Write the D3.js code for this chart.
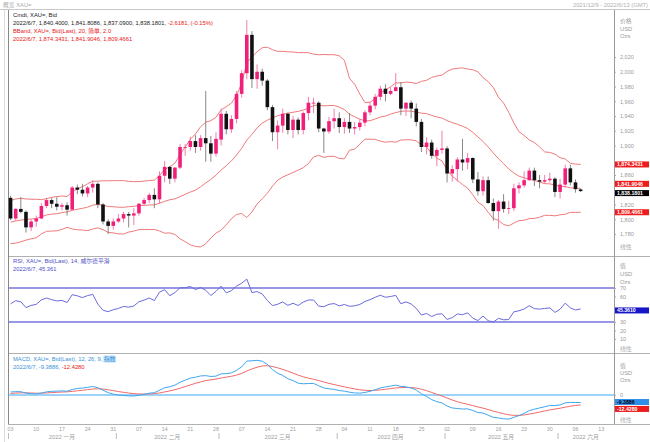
<!DOCTYPE html>
<html><head><meta charset="utf-8">
<script src="https://cdn.jsdelivr.net/npm/d3@7"></script>
<style>body{margin:0;background:#fff}svg{display:block}text{font-family:"Liberation Sans","Noto Sans CJK SC",sans-serif}</style>
</head><body><svg id="c" width="650" height="442"></svg>
<script>
// ---------- DATA ----------
const dayList = {
  "01":["03","04","05","06","07","10","11","12","13","14","17","18","19","20","21","24","25","26","27","28","31"],
  "02":["01","02","03","04","07","08","09","10","11","14","15","16","17","18","21","22","23","24","25","28"],
  "03":["01","02","03","04","07","08","09","10","11","14","15","16","17","18","21","22","23","24","25","28","29","30","31"],
  "04":["01","04","05","06","07","08","11","12","13","14","15","18","19","20","21","22","25","26","27","28","29"],
  "05":["02","03","04","05","06","09","10","11","12","13","16","17","18","19","20","23","24","25","26","27","30","31"],
  "06":["01","02","03","06","07"]
};
const dates = Object.keys(dayList).flatMap(m => dayList[m].map(d => `2022-${m}-${d}`));
const futureDates = ["2022-06-08","2022-06-09","2022-06-10","2022-06-13","2022-06-14","2022-06-15"];

const open = [1829,1801,1814,1810,1789,1797,1801,1818,1826,1821,1817,1819,1813,1843,1840,1835,1843,1848,1820,1797,1791,
 1797,1801,1807,1805,1808,1821,1826,1833,1827,1859,1871,1855,1870,1898,1898,1906,1898,1910,1903,1889,
 1908,1943,1922,1936,1970,1998,2050,1990,2000,1988,1952,1918,1927,1943,1921,1935,1921,1944,1958,1958,1923,1919,1933,
 1937,1925,1932,1923,1925,1931,1945,1954,1966,1977,1970,1974,1979,1950,1958,1950,1932,1898,1904,1886,1894,
 1896,1862,1868,1881,1877,1883,1854,1838,1853,1822,1811,1824,1814,1815,1842,1846,1853,1866,1853,1851,1853,1855,
 1837,1847,1869,1850,1840.4];
const high = [1832,1815,1830,1812,1800,1805,1822,1829,1829,1830,1822,1823,1845,1847,1848,1845,1853,1850,1822,1800,1801,
 1807,1810,1810,1815,1822,1829,1836,1842,1865,1879,1872,1871,1902,1902,1912,1914,1914,1974,1913,1918,
 1950,1947,1941,1974,2002,2070,2055,2010,2004,1990,1955,1934,1950,1945,1940,1938,1946,1966,1965,1960,1924,1939,1950,
 1945,1937,1944,1932,1936,1948,1959,1970,1981,1983,1979,1998,1986,1959,1961,1957,1936,1911,1908,1897,1920,
 1899,1873,1884,1909,1890,1884,1864,1858,1858,1828,1826,1834,1825,1848,1850,1865,1870,1870,1860,1860,1863,1857,
 1855,1874,1874,1854,1841.81];
const low = [1799,1798,1808,1782,1784,1790,1800,1815,1815,1812,1812,1805,1812,1834,1831,1830,1836,1815,1793,1780,1786,
 1795,1796,1789,1792,1805,1818,1822,1815,1821,1850,1848,1850,1868,1886,1893,1890,1893,1878,1878,1885,
 1900,1915,1917,1930,1965,1990,1978,1977,1981,1948,1906,1895,1917,1915,1910,1915,1915,1934,1944,1918,1890,1916,1923,
 1917,1916,1917,1915,1920,1926,1941,1949,1961,1960,1968,1973,1941,1940,1937,1926,1891,1888,1882,1872,1889,
 1850,1851,1851,1866,1868,1849,1832,1832,1821,1798,1787,1809,1807,1811,1835,1843,1852,1845,1842,1848,1850,1830,
 1828,1843,1846,1836,1837.09];
const close = [1801,1814,1810,1789,1797,1801,1818,1826,1821,1817,1819,1813,1843,1840,1835,1843,1848,1820,1797,1791,1797,
 1801,1807,1805,1808,1821,1826,1833,1827,1859,1871,1855,1870,1898,1898,1906,1898,1910,1903,1889,1909,
 1943,1922,1936,1970,1998,2050,1990,2000,1988,1952,1918,1927,1943,1921,1935,1921,1944,1958,1958,1923,1919,1933,1937,
 1925,1932,1923,1925,1931,1945,1954,1966,1977,1970,1974,1979,1950,1958,1950,1932,1898,1904,1886,1894,1896,
 1862,1868,1881,1877,1883,1854,1838,1853,1822,1811,1824,1814,1815,1842,1846,1853,1866,1853,1851,1853,1855,1837,
 1847,1869,1850,1840.8,1838.18];

const bbUpper = [1825.4,1827.4,1828.4,1827.5,1827.1,1827.1,1826.6,1827.9,1829.7,1830.7,1831.5,1830.9,1837.1,1841.4,1844.1,1848.1,1851.6,1851.6,1852.2,1852.1,
 1852.4,1852.4,1852.4,1851.4,1851.0,1851.1,1851.7,1852.5,1853.0,1859.2,1867.5,1871.2,1876.0,1887.7,1897.9,1908.4,1915.6,1925.4,1931.6,1933.7,
 1938.2,1948.4,1952.7,1957.5,1967.9,1984.3,2012.3,2020.3,2027.0,2032.5,2033.3,2029.9,2027.6,2027.7,2027.0,2026.8,2025.9,2025.9,2025.9,2023.9,
 2023.0,2023.4,2023.1,2023.1,2021.6,2015.5,1991.1,1983.1,1969.8,1958.3,1958.7,1963.7,1971.1,1975.2,1979.7,1984.9,1984.9,1986.0,1985.3,1984.1,
 1987.0,1988.4,1992.4,1994.1,1995.4,2000.5,2003.6,2004.6,2005.2,2003.7,2002.7,2000.0,1992.0,1986.5,1978.8,1965.5,1957.6,1945.1,1930.6,1918.7,
 1913.6,1907.6,1904.0,1898.2,1891.3,1890.6,1888.2,1883.4,1881.8,1875.9,1874.8,1874.3];
const bbMiddle = [1796.1,1797.6,1798.9,1799.6,1800.3,1801.0,1803.4,1805.8,1806.9,1807.5,1808.9,1810.0,1812.0,1813.6,1814.8,1816.4,1819.2,1820.0,1819.1,1817.2,
 1817.0,1816.3,1816.2,1817.0,1817.5,1818.5,1818.9,1819.3,1819.6,1821.7,1824.3,1826.4,1827.7,1830.6,1833.8,1836.9,1839.4,1843.9,1849.2,1854.1,
 1859.7,1866.8,1872.6,1879.1,1887.2,1896.1,1907.3,1915.1,1923.8,1930.2,1934.3,1937.4,1940.3,1942.5,1943.7,1945.1,1946.3,1948.0,1950.7,1954.2,
 1954.9,1953.7,1954.2,1954.3,1952.0,1948.7,1942.4,1939.1,1935.7,1933.5,1933.6,1936.0,1938.5,1939.9,1942.5,1944.7,1946.2,1946.9,1946.5,1945.2,
 1943.9,1943.2,1940.8,1938.7,1937.2,1933.7,1931.0,1928.8,1926.1,1923.0,1918.0,1911.6,1905.4,1898.0,1889.8,1882.1,1875.3,1868.1,1862.7,1858.4,
 1856.2,1854.3,1852.6,1850.5,1848.3,1848.0,1846.4,1844.7,1844.3,1842.7,1842.0,1841.9];
const bbLower = [1766.8,1767.7,1769.4,1771.7,1773.5,1774.9,1780.1,1783.6,1784.0,1784.3,1786.2,1789.1,1786.9,1785.7,1785.4,1784.6,1786.8,1788.3,1785.9,1782.2,
 1781.5,1780.2,1780.0,1782.5,1784.0,1785.9,1786.1,1786.0,1786.2,1784.1,1781.1,1781.5,1779.4,1773.5,1769.6,1765.4,1763.2,1762.4,1766.8,1774.5,
 1781.2,1785.2,1792.4,1800.7,1806.5,1807.8,1802.2,1809.9,1820.5,1827.9,1835.3,1844.9,1852.9,1857.3,1860.3,1863.4,1866.6,1870.0,1875.5,1884.5,
 1886.7,1883.9,1885.3,1885.4,1882.4,1881.9,1893.6,1895.1,1901.6,1908.7,1908.5,1908.3,1905.9,1904.5,1905.3,1904.5,1907.4,1907.7,1907.7,1906.2,
 1900.8,1897.9,1889.2,1883.2,1879.0,1866.9,1858.3,1852.9,1847.0,1842.2,1833.3,1823.1,1818.7,1809.4,1800.8,1798.6,1792.9,1791.1,1794.8,1798.1,
 1798.7,1800.9,1801.2,1802.7,1805.3,1805.3,1804.6,1806.0,1806.8,1809.4,1809.2,1809.5];

const rsi = [51.3,55.1,53.7,47.0,49.5,50.8,56.0,58.2,56.3,54.8,55.4,52.9,62.1,60.8,58.7,61.1,62.5,51.0,43.8,42.2,
 44.4,46.0,48.3,47.5,48.8,53.9,55.7,58.2,55.3,65.2,68.0,60.9,64.6,70.3,70.3,71.8,68.1,70.6,67.3,61.2,
 66.0,72.2,64.3,66.9,72.2,75.6,80.5,64.6,65.8,63.0,55.4,49.3,50.9,53.6,49.6,52.0,49.4,53.5,55.9,55.9,
 48.7,48.0,50.8,51.7,49.0,50.6,48.5,49.0,50.6,54.1,56.3,59.1,61.5,59.1,60.0,61.3,51.5,53.7,51.2,46.0,
 38.1,40.1,36.4,39.1,39.7,33.0,35.1,39.5,38.6,40.7,34.5,31.7,37.0,31.5,29.9,34.3,32.6,32.9,42.0,43.2,
 45.3,49.2,45.7,45.2,45.9,46.6,41.3,45.0,52.2,46.6,44.1,45.361];

const macd = [3.77,4.19,4.16,2.40,1.63,1.33,2.44,3.92,4.63,4.82,5.08,4.74,6.82,8.13,8.66,9.62,10.66,9.12,5.97,2.96,
 1.05,-0.14,-0.60,-1.11,-1.26,-0.32,0.81,2.25,2.87,5.88,9.13,10.29,12.28,15.93,18.61,21.14,22.24,23.81,24.21,23.13,
 23.62,26.44,26.68,27.67,30.85,35.22,42.39,42.74,43.32,42.33,38.20,31.81,27.16,24.48,20.36,18.01,14.84,14.02,14.34,14.43,
 11.54,8.83,7.72,7.08,5.55,4.84,3.51,2.58,2.30,3.18,4.55,6.53,8.88,10.06,11.19,12.35,10.80,10.10,8.80,6.24,
 1.46,-1.83,-5.82,-8.24,-9.89,-13.78,-16.19,-16.86,-17.51,-17.34,-19.32,-21.93,-22.53,-25.22,-27.92,-28.67,-29.73,-30.14,-27.97,-25.63,
 -22.94,-19.54,-17.69,-16.20,-14.69,-13.18,-13.28,-12.41,-9.83,-9.22,-9.37,-9.3886];
const macdSignal = [1.95,2.40,2.75,2.68,2.47,2.24,2.28,2.61,3.01,3.37,3.71,3.92,4.50,5.23,5.92,6.66,7.46,7.79,7.43,6.54,
 5.44,4.32,3.34,2.45,1.71,1.30,1.20,1.41,1.70,2.54,3.86,5.15,6.58,8.45,10.48,12.61,14.54,16.39,17.95,18.99,
 19.92,21.22,22.31,23.38,24.87,26.94,30.03,32.57,34.72,36.24,36.63,35.67,33.97,32.07,29.73,27.39,24.88,22.71,21.04,19.72,
 18.08,16.23,14.53,13.04,11.54,10.20,8.86,7.60,6.54,5.87,5.61,5.79,6.41,7.14,7.95,8.83,9.22,9.40,9.28,8.67,
 7.23,5.42,3.17,0.89,-1.27,-3.77,-6.25,-8.37,-10.20,-11.63,-13.17,-14.92,-16.44,-18.20,-20.14,-21.85,-23.43,-24.77,-25.41,-25.45,
 -24.95,-23.87,-22.63,-21.34,-20.01,-18.64,-17.57,-16.54,-15.20,-14.00,-13.07,-12.428];

// tick labels that are visible in the reference (the others sit under the value boxes)
const priceTicks = [1780,1800,1820,1860,1900,1920,1940,1960,1980,2000,2020];
const rsiTicks = [10,20,30,60,70];
const rsiLevels = [70,30];
const macdTicks = [0];
const mondayTicks = ["2022-01-03","2022-01-10","2022-01-17","2022-01-24","2022-01-31","2022-02-07","2022-02-14","2022-02-21","2022-02-28",
 "2022-03-07","2022-03-14","2022-03-21","2022-03-28","2022-04-04","2022-04-11","2022-04-18","2022-04-25","2022-05-02","2022-05-09",
 "2022-05-16","2022-05-23","2022-05-30","2022-06-06","2022-06-13"];
const monthStarts = ["2022-01-03","2022-02-01","2022-03-01","2022-04-01","2022-05-02","2022-06-01"];
const monthLabels = ["2022 一月","2022 二月","2022 三月","2022 四月","2022 五月","2022 六月"];

// ---------- DRAW ----------
const svg = d3.select("#c");
const L = 8, R = 614;
const P = {main:[10,256], rsi:[256,353], macd:[353,424]};
const allDates = dates.concat(futureDates);
const x = d3.scaleBand().domain(allDates).range([L, R]).paddingInner(0.3).paddingOuter(0.15);
const step = x.step(), bw = x.bandwidth();
const cx = d => x(d) + bw / 2;
const yMain = d3.scaleLinear().domain([1780, 2020]).range([234, 57]);
const yRsi = d3.scaleLinear().domain([30, 70]).range([322, 288]);
const yMacd = d3.scaleLinear().domain([0, 40]).range([395, 363]);

const defs = svg.append("defs");
Object.entries(P).forEach(([k, [t, b]]) => {
  defs.append("clipPath").attr("id", "clip-" + k).append("rect").attr("x", L).attr("y", t).attr("width", R - L).attr("height", b - t);
});

// frame
const frame = svg.append("g").attr("stroke", "#b0b0b0").attr("stroke-width", 1);
frame.append("line").attr("x1", 0).attr("x2", 650).attr("y1", 9.5).attr("y2", 9.5).attr("stroke", "#c8c8c8");
[P.main[1], P.rsi[1]].forEach(y => frame.append("line").attr("x1", L).attr("x2", 650).attr("y1", y + 0.5).attr("y2", y + 0.5));
frame.append("line").attr("x1", L).attr("x2", 650).attr("y1", 424.5).attr("y2", 424.5);
frame.append("line").attr("x1", L + 0.5).attr("x2", L + 0.5).attr("y1", 10).attr("y2", 424).attr("stroke", "#888");
frame.append("line").attr("x1", 4.5).attr("x2", 4.5).attr("y1", 10).attr("y2", 442).attr("stroke", "#dcdcdc");
frame.append("line").attr("x1", R + 0.5).attr("x2", R + 0.5).attr("y1", 10).attr("y2", 424).attr("stroke", "#999");

const fs = 5.8;
function txt(g, xx, yy, s, color, anchor) {
  return g.append("text").attr("x", xx).attr("y", yy).attr("font-size", fs).attr("fill", color || "#333").attr("text-anchor", anchor || "start").text(s);
}

// ---- main panel
const gm = svg.append("g").attr("clip-path", "url(#clip-main)");
const bbLine = arr => d3.line().x((d, i) => cx(dates[i])).y(d => yMain(d))(arr);
[bbUpper, bbMiddle, bbLower].forEach(a => gm.append("path").attr("d", bbLine(a)).attr("fill", "none").attr("stroke", "#f07a7a").attr("stroke-width", 1));
const candles = gm.append("g").selectAll("g").data(dates).join("g");
candles.append("line").attr("x1", d => cx(d)).attr("x2", d => cx(d))
  .attr("y1", (d, i) => yMain(high[i])).attr("y2", (d, i) => yMain(low[i]))
  .attr("stroke", (d, i) => close[i] >= open[i] ? "#f06fa5" : "#7a7a7a").attr("stroke-width", 0.9);
candles.append("rect").attr("x", d => x(d)).attr("width", bw)
  .attr("y", (d, i) => yMain(Math.max(open[i], close[i])))
  .attr("height", (d, i) => Math.max(0.8, Math.abs(yMain(open[i]) - yMain(close[i]))))
  .attr("fill", (d, i) => close[i] >= open[i] ? "#f0207a" : "#111");

// ---- RSI panel
const gr = svg.append("g").attr("clip-path", "url(#clip-rsi)");
rsiLevels.forEach(v => gr.append("line").attr("x1", L).attr("x2", R).attr("y1", yRsi(v)).attr("y2", yRsi(v)).attr("stroke", "#7474dc").attr("stroke-width", 1.3));
gr.append("path").attr("d", d3.line().x((d, i) => cx(dates[i])).y(d => yRsi(d))(rsi)).attr("fill", "none").attr("stroke", "#6a6ade").attr("stroke-width", 1);

// ---- MACD panel
const gc = svg.append("g").attr("clip-path", "url(#clip-macd)");
gc.append("line").attr("x1", L).attr("x2", R).attr("y1", yMacd(0)).attr("y2", yMacd(0)).attr("stroke", "#3aa8ee").attr("stroke-width", 1);
gc.append("path").attr("d", d3.line().x((d, i) => cx(dates[i])).y(d => yMacd(d))(macdSignal)).attr("fill", "none").attr("stroke", "#f06a6a").attr("stroke-width", 1);
gc.append("path").attr("d", d3.line().x((d, i) => cx(dates[i])).y(d => yMacd(d))(macd)).attr("fill", "none").attr("stroke", "#40a6f0").attr("stroke-width", 1);

// ---- right axes
function rAxis(scale, ticks, fmt) {
  const g = svg.append("g").attr("transform", `translate(${R},0)`)
    .call(d3.axisRight(scale).tickValues(ticks).tickSize(2).tickPadding(4).tickFormat(fmt));
  g.select(".domain").remove();
  g.selectAll("text").attr("font-size", fs - 0.3).attr("fill", "#9a9a9a").style("font-family", '"Liberation Sans",sans-serif');
  g.selectAll("line").attr("stroke", "#aaa");
  return g;
}
rAxis(yMain, priceTicks, d3.format(","));
rAxis(yRsi, rsiTicks, d3.format("d"));
rAxis(yMacd, macdTicks, d3.format("d"));

const ax = svg.append("g");
[["价格", 23], ["USD", 31], ["Ozs", 38]].forEach(([s, y]) => txt(ax, 620, y, s, "#9a9a9a"));
[["值", 268], ["USD", 276], ["Ozs", 284]].forEach(([s, y]) => txt(ax, 620, y, s, "#9a9a9a"));
[["值", 368], ["USD", 375], ["Ozs", 382]].forEach(([s, y]) => txt(ax, 620, y, s, "#9a9a9a"));
[249, 351, 422].forEach(y => txt(ax, 620, y, "线性", "#aaa"));

// ---- value boxes
function box(y, label, fill, color) {
  const g = svg.append("g");
  g.append("rect").attr("x", R + 1).attr("y", y - 3).attr("width", 34).attr("height", 6).attr("fill", fill);
  g.append("text").attr("x", R + 3).attr("y", y + 1.8).attr("font-size", 5.2).attr("fill", color).attr("font-weight", "bold").text(label);
}
const last = dates.length - 1;
box(yMain(bbUpper[last]), "1,874.3431", "#ee1c1c", "#fff");
box(yMain(bbMiddle[last]) - 4.5, "1,841.9046", "#ee1c1c", "#fff");
box(yMain(close[last]) + 2, "1,838.1801", "#000", "#fff");
box(yMain(bbLower[last]), "1,809.4661", "#ee1c1c", "#fff");
box(yRsi(rsi[last]) + 1.5, "45.3610", "#1616c8", "#fff");
box(yMacd(macd[last]) - 0.5, "-9.3886", "#2f8fe6", "#001");
box(yMacd(macdSignal[last]) + 4, "-12.4280", "#ee1c1c", "#fff");

// ---- x axis
const xa = svg.append("g").attr("transform", "translate(0,426)")
  .call(d3.axisBottom(x).tickValues(mondayTicks).tickSize(0).tickPadding(1).tickFormat(d => d.slice(8)));
xa.select(".domain").remove();
xa.selectAll("text").attr("font-size", fs - 0.5).attr("fill", "#a0a0a0").style("font-family", '"Liberation Sans",sans-serif');
const mEdges = monthStarts.map(d => x(d) - (step - bw) / 2).concat([R]);
const mg = svg.append("g");
monthStarts.forEach((d, i) => {
  mg.append("line").attr("x1", mEdges[i] + 0.5).attr("x2", mEdges[i] + 0.5).attr("y1", 433).attr("y2", 439).attr("stroke", "#bbb");
  txt(mg, (mEdges[i] + mEdges[i + 1]) / 2, 439, monthLabels[i], "#a0a0a0", "middle");
});

// ---- header texts
const hd = svg.append("g");
txt(hd, 3, 7, "概览 XAU=", "#aaa");
txt(hd, 648, 7, "2021/12/9 - 2022/6/13 (GMT)", "#b0b0b0", "end");
txt(hd, 13, 17, "Cmdt, XAU=, Bid", "#222");
const l2 = txt(hd, 13, 25, "", "#222");
l2.append("tspan").text("2022/6/7, 1,840.4000, 1,841.8086, 1,837.0900, 1,838.1801, ");
l2.append("tspan").attr("fill", "#e81818").text("-2.6181, (-0.15%)");
txt(hd, 13, 33, "BBand, XAU=, Bid(Last), 20, 简单, 2.0", "#e81818");
txt(hd, 13, 41, "2022/6/7, 1,874.3431, 1,841.9046, 1,809.4661", "#e81818");
txt(hd, 13, 263, "RSI, XAU=, Bid(Last), 14, 威尔德平滑", "#5050c8");
txt(hd, 13, 271, "2022/6/7, 45.361", "#5050c8");
const m1 = txt(hd, 13, 361, "", "#3a92d8");
m1.append("tspan").text("MACD, XAU=, Bid(Last), 12, 26, 9, ");
m1.append("tspan").text("指数");
const l3 = txt(hd, 13, 369, "", "#3a92d8");
l3.append("tspan").text("2022/6/7, -9.3886, ");
l3.append("tspan").attr("fill", "#e81818").text("-12.4280");
const m1w = m1.node().getComputedTextLength();
hd.insert("rect", "text").attr("x", 13 + m1w - 12.2).attr("y", 355.5).attr("width", 12.4).attr("height", 7).attr("fill", "#bfe0f7");
</script></body></html>
